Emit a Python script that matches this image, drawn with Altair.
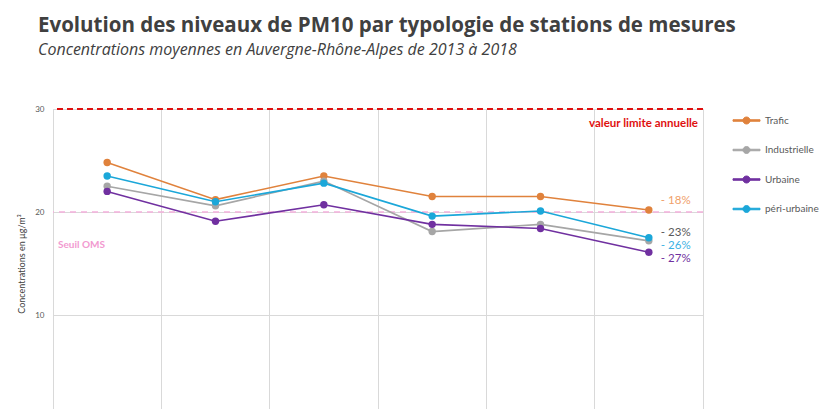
import altair as alt
import pandas as pd

years = ["2013", "2014", "2015", "2016", "2017", "2018"]
series = ["Trafic", "Industrielle", "Urbaine", "péri-urbaine"]
trafic = [24.8, 21.2, 23.5, 21.5, 21.5, 20.2]
industrielle = [22.5, 20.6, 23.0, 18.1, 18.8, 17.2]
urbaine = [22.0, 19.1, 20.7, 18.8, 18.4, 16.1]
periurbaine = [23.5, 21.0, 22.8, 19.6, 20.1, 17.5]
changes = ["- 18%", "- 23%", "- 27%", "- 26%"]

limit_value = 30
who_value = 20

colors = ["#e0823c", "#a6a6a6", "#7030a0", "#1ba7d9"]
label_colors = ["#f0a06a", "#595959", "#7030a0", "#3cb2e4"]
label_dy = [-9, -8, 7, 8]

values = [trafic, industrielle, urbaine, periurbaine]
rows = []
for s, vals in zip(series, values):
    for y, v in zip(years, vals):
        rows.append({"series": s, "year": y, "value": v})
df = pd.DataFrame(rows)

FONT = "Lato"
color_scale = alt.Scale(domain=series, range=colors)

x_enc = alt.X(
    "year:N",
    sort=years,
    scale=alt.Scale(type="band", paddingInner=0, paddingOuter=0),
    axis=alt.Axis(bandPosition=0, grid=True, gridColor="#d9d9d9", domain=False,
                  ticks=False, title=None, labels=False),
)
y_enc = alt.Y(
    "value:Q",
    scale=alt.Scale(domain=[0, 30], nice=False),
    axis=alt.Axis(values=[10, 20, 30], grid=True, gridColor="#d9d9d9",
                  domain=False, ticks=False, labelFontSize=8, labelColor="#595959",
                  labelPadding=9, title="Concentrations en µg/m³", titleFontSize=9,
                  titleFontWeight="normal", titleColor="#404040", titlePadding=8),
)

# line segment (thin bar) with a circular marker in the middle
legend_path = ("M-2.7,-0.15H2.7V0.15H-2.7Z"
               "M0.7,0A0.7,0.7,0,1,1,-0.7,0A0.7,0.7,0,1,1,0.7,0Z")
legend = alt.Legend(
    title=None, orient="none", legendX=688, legendY=6,
    symbolType=legend_path, symbolSize=100, symbolStrokeWidth=1,
    labelOffset=13, rowPadding=18.5, labelFontSize=10, labelColor="#595959",
    labelFont=FONT, symbolOpacity=1,
)
color_enc = alt.Color("series:N", scale=color_scale, sort=series, legend=legend)

lines = alt.Chart(df).mark_line(strokeWidth=1.6).encode(
    x=x_enc, y=y_enc, color=color_enc, order=alt.Order("year:N"),
)
points = alt.Chart(df).mark_point(filled=True, size=55, opacity=1).encode(
    x=x_enc, y=y_enc, color=color_enc,
)

limit_rule = alt.Chart(pd.DataFrame({"v": [limit_value]})).mark_rule(
    color="#e01010", strokeDash=[6, 4], strokeWidth=2
).encode(y=alt.Y("v:Q"))
who_rule = alt.Chart(pd.DataFrame({"v": [who_value]})).mark_rule(
    color="#f4b0dc", strokeDash=[6, 5], strokeWidth=1.5
).encode(y=alt.Y("v:Q"))

limit_text = alt.Chart(pd.DataFrame({"v": [limit_value], "t": ["valeur limite annuelle"]})).mark_text(
    align="right", color="#e01010", fontWeight="bold", fontSize=11.5, font=FONT, dy=15
).encode(x=alt.value(645), y=alt.Y("v:Q"), text="t:N")
who_text = alt.Chart(pd.DataFrame({"v": [who_value], "t": ["Seuil OMS"]})).mark_text(
    align="left", color="#f29ad0", fontWeight="bold", fontSize=10, font=FONT, dy=33
).encode(x=alt.value(5), y=alt.Y("v:Q"), text="t:N")

pct_layers = []
for s, vals, lab, c, dy in zip(series, values, changes, label_colors, label_dy):
    d = pd.DataFrame({"year": [years[-1]], "value": [vals[-1]], "t": [lab]})
    pct_layers.append(
        alt.Chart(d).mark_text(align="left", color=c, fontSize=11.5, font=FONT, dx=12, dy=dy)
        .encode(x=alt.X("year:N", sort=years), y=alt.Y("value:Q"), text="t:N")
    )

chart = alt.layer(
    who_rule, lines, points, limit_rule, limit_text, who_text, *pct_layers
).properties(
    width=650, height=309,
    autosize=alt.AutoSizeParams(type="none"),
    padding={"left": 45, "top": 101, "right": 116, "bottom": 0},
    title=alt.TitleParams(
        text="Evolution des niveaux de PM10 par typologie de stations de mesures",
        subtitle="Concentrations moyennes en Auvergne-Rhône-Alpes de 2013 à 2018",
        anchor="start", frame="group", dx=-15, offset=47, font="Open Sans",
        fontSize=20.5, fontWeight="bold",
        color="#404040", subtitleFont="Open Sans", subtitleFontStyle="italic",
        subtitleFontSize=16, subtitleColor="#404040", subtitlePadding=6,
    ),
).configure_view(stroke="#d9d9d9").configure_axis(labelFont=FONT, titleFont=FONT)

chart.save("out.html", embed_options={"renderer": "svg", "actions": False})
